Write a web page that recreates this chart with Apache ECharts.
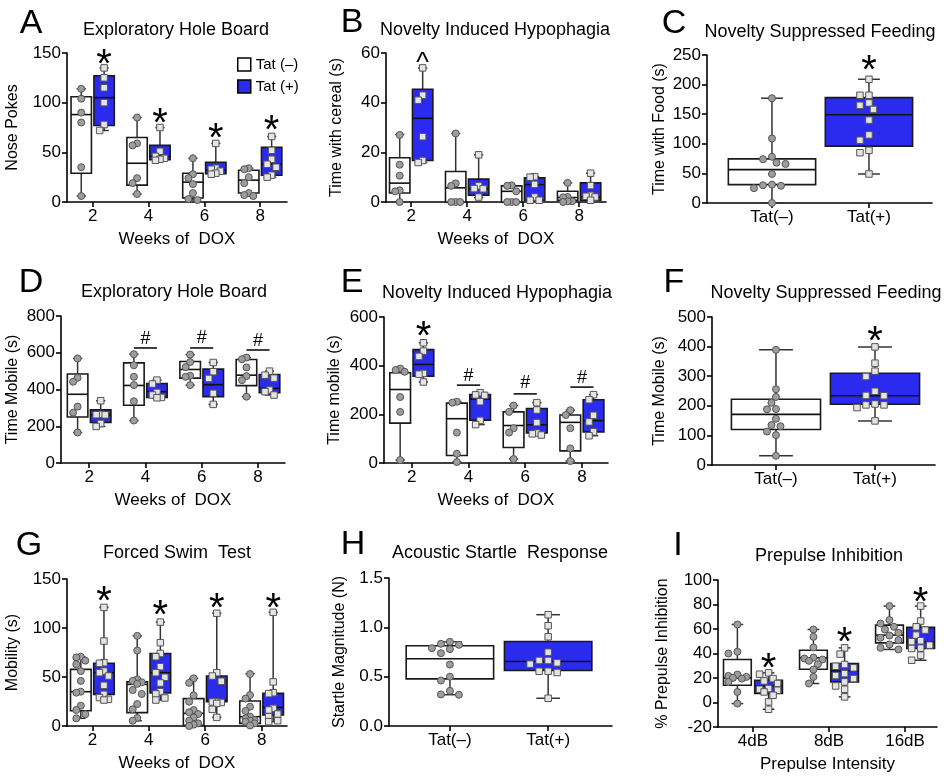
<!DOCTYPE html>
<html><head><meta charset="utf-8">
<script src="https://cdn.jsdelivr.net/npm/echarts@6/dist/echarts.min.js"></script>
<style>html,body{margin:0;padding:0;background:#fff}#c{width:946px;height:780px}</style>
</head><body><div id="c"></div>
<script>
// ---------------- DATA ----------------
const weeks = ['2', '4', '6', '8'];
const tatLabels = ['Tat(–)', 'Tat(+)'];
const dbLabels = ['4dB', '8dB', '16dB'];

// Panel A: Exploratory Hole Board, Nose Pokes
const A_negPts = [[114,104,90,80,35,6],[85,59,57,24,19,8],[44,28,24,18,9,3,2],[34,33,25,19,9,7,6]];
const A_negBox = [[6,29,88,106,114],[8,17,39,65,85],[2,4,20,29,44],[6,9,22,32,34]];
const A_posPts = [[135,125,115,100,78,72],[75,51,46,44,43,42],[59,34,33,31,29,28],[66,52,43,38,35,27,25]];
const A_posBox = [[72,77,105,127,135],[42,42.5,46,57,75],[28,28.5,32,40,59],[25,27,38,55,66]];
const A_stars = [145,86,71,79];

// Panel B: Novelty Induced Hypophagia, Time with cereal
const B_negPts = [[27,15,10.6,4.7,4.3,0],[27.6,7.5,6.5,0,0,0],[6.7,6.5,4.3,0,0,0],[7.7,2,1.9,0.3,0.3,0]];
const B_negBox = [[0,3.6,7.6,17.8,27.2],[0,0,5.7,12.3,27.6],[0,0,4.3,6.5,6.7],[0,0.7,1.8,4.3,7.7]];
const B_posPts = [[54,43,41,26.3,16.7,15.9],[19,6.5,5.4,5.3,2],[10.2,10,7.1,2,0.7,0.7],[11.6,6.6,2.7,2.3,2,0.7]];
const B_posBox = [[15.9,16.7,33.7,45.4,53.9],[1.8,2.7,5.3,9.2,19],[0.7,0.7,7,9.7,10.2],[0.7,0.7,2,7.7,11.6]];
const B_caret = [58];

// Panel C: Novelty Suppressed Feeding, Time with Food
const C_negPts = [177,109,78,74,68,66,49,31,30,29,25,0];
const C_negBox = [0,31,56.4,74.5,177];
const C_posPts = [209,182,182,169,165,158,140,115,106,89,85,49];
const C_posBox = [49,96,149,178,209];
const C_star = [235];

// Panel D: Exploratory Hole Board, Time Mobile
const D_negPts = [[569,464,442,307,274,166],[592,532,469,424,336,231],[590,549,522,475,469,424],[574,565,520,473,451,361]];
const D_negBox = [[166,250,374,484,569],[231,314,422,545,592],[424,462,509,552,590],[361,421,478,563,574]];
const D_posPts = [[339,265,263,262,215,199],[451,430,384,370,357,355],[547,497,460,379,319],[500,478,462,397,388,370]];
const D_posBox = [[199,220,262,289,339],[355,357,388,433,451],[319,361,426,511,547],[370,383,406,482,500]];
const D_hashLine = [null,626,626,615];
const D_hashText = [null,675,680,664];

// Panel E: Novelty Induced Hypophagia, Time mobile
const E_negPts = [[388,382,375,271,210,12],[252,248,125,38,4],[236,210,143,125,16],[217,197,143,60,8]];
const E_negBox = [[12,164,302,371,388],[4,31,182,246,252],[16,64,154,210,236],[8,50,167,197,217]];
const E_posPts = [[494,460,438,368,365,333],[289,280,278,252,175,158],[248,218,166,123,120,115],[281,260,196,169,128,112]];
const E_posBox = [[333,357,405,466,494],[158,176,263,281,289],[115,124,157,224,248],[112,128,174,260,281]];
const E_stars = [547];
const E_hashLine = [null,320,284,312];
const E_hashText = [null,357,329,349];

// Panel F: Novelty Suppressed Feeding, Time Mobile
const F_negPts = [389,256,230,210,189,188,156,135,131,113,101,31];
const F_negBox = [31,120,171,222,389];
const F_posPts = [399,344,317,299,249,235,234,206,203,203,194,149];
const F_posBox = [149,205,234,310,399];
const F_star = [439];

// Panel G: Forced Swim Test, Mobility
const G_negPts = [[70.7,70,66.7,63,56,46,35,34,20.7,16.3,12,7.8],[92,77,47.6,46,44.6,43,36.7,32.7,22.4,17,8.2,5.4],[48.6,44,31.3,24.8,16.3,14,12.2,8.8,5.4,2.7,1.4,0],[53,31.6,28,19.7,15.3,9.5,7.8,6.1,5.4,4.4,2.7,0.5]];
const G_negBox = [[7.8,15.6,35,57.8,70.7],[5.4,13.6,42.5,45,92],[0,0.7,12.9,27.9,48.6],[0.5,2.7,9.5,25.5,53.4]];
const G_posPts = [[121,86.7,64.6,64,56,54.4,51,41.5,32.3,29,27.2,26.5],[106,85,74,70.7,60.5,54.4,49.7,43.9,35,32.7,28.6,26.5],[115,54.4,51,45.6,24.8,24.5,24,23,17,8.8],[116,45,34,33,18,16.3,12.2,9.5,5.4,4.4]];
const G_posBox = [[26.5,32.3,54.4,64,121],[26.5,33.7,54.4,74,106],[8.8,24.8,26.5,51,115],[4.4,11.2,19,33.3,116]];
const G_stars = [134,119,127,127];

// Panel H: Acoustic Startle Response
const H_negPts = [0.853,0.833,0.823,0.789,0.779,0.738,0.623,0.5,0.461,0.356,0.32,0.317];
const H_negBox = [0.317,0.478,0.681,0.813,0.853];
const H_posPts = [1.128,1.016,0.904,0.748,0.664,0.664,0.64,0.627,0.555,0.555,0.542,0.281];
const H_posBox = [0.281,0.562,0.654,0.857,1.128];

// Panel I: Prepulse Inhibition
const I_negPts = [[63.7,41.4,40,22.8,21.7,20.9,20.1,19.5,16.8,8.6,-0.9],[59.6,53.6,44.9,36.7,35.9,35.1,34,31.3,26.9,20.9,15.5],[78.7,67.3,64.5,61.8,59.6,56.9,54.7,52.8,50.9,47.4,44.6,43.3]];
const I_negBox = [[-0.9,14.1,20.1,35.1,63.7],[15.5,27.2,36.5,42.7,59.6],[43.3,48.7,55,63.2,78.7]];
const I_posPts = [[24.2,23.1,19.5,17.6,15.5,11.4,10.8,10,8.6,5.9,0.5,-5.5],[44.6,39.5,31,29.6,28.3,23.6,22,19.5,16.8,13.5,10.8,4.6],[78.7,66.5,61.8,59.1,55,50.4,49.6,46.8,44.4,44.1,38.6,34.5]];
const I_posBox = [[-5.5,7.3,13.5,18.2,24.2],[4.6,16.8,25.8,31.8,44.6],[34.5,44.1,49.6,61.3,78.7]];
const I_stars = [32.7,54.3,87.3];

// ---------------- BUILD ----------------
const FONT = '"Liberation Sans", Arial, Helvetica, sans-serif';
const BLUE = '#2b2bef';
const PAIR_OFF = 0.205, PAIR_W = 0.365;

const grids = [], xAxes = [], yAxes = [], series = [], graphics = [];

function boxRender(offset, width, fill, capFrac) {
  return function (params, api) {
    const x = api.value(0) + offset;
    const pMin = api.coord([x, api.value(1)]);
    const pQ1 = api.coord([x, api.value(2)]);
    const pMed = api.coord([x, api.value(3)]);
    const pQ3 = api.coord([x, api.value(4)]);
    const pMax = api.coord([x, api.value(5)]);
    const w = api.size([width, 0])[0];
    const cw = w * capFrac;
    const cx = pMed[0];
    const wl = { stroke: '#333', lineWidth: 1.5 };
    return { type: 'group', children: [
      { type: 'line', shape: { x1: cx, y1: pMax[1], x2: cx, y2: pMin[1] }, style: wl },
      { type: 'line', shape: { x1: cx - cw / 2, y1: pMax[1], x2: cx + cw / 2, y2: pMax[1] }, style: wl },
      { type: 'line', shape: { x1: cx - cw / 2, y1: pMin[1], x2: cx + cw / 2, y2: pMin[1] }, style: wl },
      { type: 'rect', shape: { x: cx - w / 2, y: pQ3[1], width: w, height: pQ1[1] - pQ3[1] }, style: { fill: fill, stroke: '#1a1a1a', lineWidth: 1.6 } },
      { type: 'line', shape: { x1: cx - w / 2, y1: pMed[1], x2: cx + w / 2, y2: pMed[1] }, style: { stroke: '#111', lineWidth: 1.6 } }
    ] };
  };
}

function jitter(vals, center, pxX, pxY, maxPx) {
  const order = vals.map((v, i) => i).sort((a, b) => vals[b] - vals[a]);
  const placed = [], out = new Array(vals.length);
  const d = 7, step = 4.5;
  const cands = [0];
  for (let k = 1; k <= 10; k++) cands.push(-k * step, k * step);
  for (const i of order) {
    const y = vals[i] * pxY;
    let best = 0, bestScore = -1;
    for (const c of cands) {
      if (Math.abs(c) > maxPx) continue;
      let minD = Infinity;
      for (const p of placed) { const dd = Math.hypot(p[0] - c, p[1] - y); if (dd < minD) minD = dd; }
      if (minD >= d) { best = c; break; }
      if (minD > bestScore) { bestScore = minD; best = c; }
    }
    placed.push([best, y]);
    out[i] = center + best / pxX;
  }
  return out;
}

function text(x, y, str, size) {
  graphics.push({ type: 'text', x: x, y: y, silent: true,
    style: { text: str, fontSize: size, fontFamily: FONT, fill: '#000', align: 'center', verticalAlign: 'middle' } });
}

const NOTE_STYLE = {
  star: { fs: 40, dy: 0.2, txt: '*', fw: 'normal' },
  hash: { fs: 18, dy: 0, txt: '#', fw: 'normal' },
  caret: { fs: 27, dy: 0.2, txt: '^', fw: 'normal' }
};

function addPanel(p) {
  const gi = grids.length;
  grids.push({ left: p.grid[0], top: p.grid[1], width: p.grid[2], height: p.grid[3] });
  const ticks = p.cats.map((c, i) => i);
  xAxes.push({ gridIndex: gi, type: 'value', min: p.xr[0], max: p.xr[1],
    axisLine: { show: true, onZero: false, lineStyle: { color: '#000', width: 1.6 } },
    axisTick: { show: true, customValues: ticks, length: 5, lineStyle: { color: '#000', width: 1.6 } },
    axisLabel: { customValues: ticks, formatter: v => p.cats[Math.round(v)], color: '#000', fontSize: 17, fontFamily: FONT, margin: 6 },
    splitLine: { show: false },
    name: p.xName || '', nameLocation: 'middle', nameGap: 29,
    nameTextStyle: { color: '#000', fontSize: 17, fontFamily: FONT } });
  yAxes.push({ gridIndex: gi, type: 'value', min: p.yr[0], max: p.yr[1], interval: p.yr[2],
    axisLine: { show: true, onZero: false, lineStyle: { color: '#000', width: 1.6 } },
    axisTick: { show: true, length: 5, lineStyle: { color: '#000', width: 1.6 } },
    axisLabel: { color: '#000', fontSize: 17, fontFamily: FONT, margin: 6, formatter: p.yFmt || (v => String(v)) },
    splitLine: { show: false },
    name: p.yName, nameLocation: 'middle', nameGap: p.yGap,
    nameTextStyle: { color: '#000', fontSize: 16, fontFamily: FONT } });
  const pxX = p.grid[2] / (p.xr[1] - p.xr[0]);
  const pxY = p.grid[3] / (p.yr[1] - p.yr[0]);
  p.groups.forEach(g => {
    const neg = g.kind === 'neg';
    series.push({ type: 'custom', name: neg ? 'Tat (–)' : 'Tat (+)', xAxisIndex: gi, yAxisIndex: gi, z: 2, silent: true, clip: false,
      itemStyle: { color: neg ? '#fff' : BLUE },
      data: g.box.map((b, k) => [g.xs[k]].concat(b)),
      renderItem: boxRender(g.offset, g.width, neg ? '#fff' : BLUE, p.cap) });
    const pts = [];
    g.pts.forEach((vals, k) => {
      const c = g.xs[k] + g.offset;
      const xs = jitter(vals, c, pxX, pxY, p.spread);
      vals.forEach((v, j) => pts.push([xs[j], v]));
    });
    series.push({ type: 'scatter', xAxisIndex: gi, yAxisIndex: gi, z: 3, silent: true, data: pts,
      symbol: neg ? 'circle' : 'rect', symbolSize: neg ? 7 : 6.5,
      itemStyle: neg ? { color: '#9d9d9d', borderColor: '#555', borderWidth: 1, opacity: 1 }
                     : { color: '#e4e4e4', borderColor: '#555', borderWidth: 1, opacity: 1 } });
  });
  if (p.notes && p.notes.length) {
    series.push({ type: 'custom', xAxisIndex: gi, yAxisIndex: gi, z: 4, silent: true, clip: false,
      data: p.notes.map(n => [n[0], n[1]]),
      renderItem: (params, api) => {
        const st = NOTE_STYLE[p.notes[params.dataIndex][2]];
        const pt = api.coord([api.value(0), api.value(1)]);
        return { type: 'text', x: pt[0], y: pt[1] + st.fs * st.dy,
          style: { text: st.txt, fontSize: st.fs, fontWeight: st.fw, fontFamily: FONT, fill: '#000', align: 'center', verticalAlign: 'middle' } };
      } });
  }
  if (p.lines && p.lines.length) {
    series.push({ type: 'custom', xAxisIndex: gi, yAxisIndex: gi, z: 4, silent: true, clip: false,
      data: p.lines,
      renderItem: (params, api) => {
        const a = api.coord([api.value(0), api.value(2)]);
        const b = api.coord([api.value(1), api.value(2)]);
        return { type: 'line', shape: { x1: a[0], y1: a[1], x2: b[0], y2: b[1] }, style: { stroke: '#000', lineWidth: 1.5 } };
      } });
  }
  text(p.letter[1], p.letter[2], p.letter[0], 34);
  text(p.title[1], p.title[2], p.title[0], 18);
}

function pairGroups(negPts, negBox, posPts, posBox) {
  const xs = negBox.map((b, i) => i);
  return [
    { kind: 'neg', xs: xs, pts: negPts, box: negBox, offset: -PAIR_OFF, width: PAIR_W },
    { kind: 'pos', xs: xs, pts: posPts, box: posBox, offset: PAIR_OFF, width: PAIR_W }
  ];
}
function singleGroups(negPts, negBox, posPts, posBox, w) {
  return [
    { kind: 'neg', xs: [0], pts: [negPts], box: [negBox], offset: 0, width: w },
    { kind: 'pos', xs: [1], pts: [posPts], box: [posBox], offset: 0, width: w }
  ];
}
function starNotes(vals, off, startIdx) {
  return vals.map((v, i) => [i + (startIdx || 0) + off, v, 'star']);
}
function hashNotes(textVals) {
  const out = [];
  textVals.forEach((v, i) => { if (v != null) out.push([i, v, 'hash']); });
  return out;
}
function hashLines(lineVals) {
  const out = [];
  lineVals.forEach((v, i) => { if (v != null) out.push([i - PAIR_OFF, i + PAIR_OFF, v]); });
  return out;
}

addPanel({ letter: ['A', 31, 24], title: ['Exploratory Hole Board', 176, 30],
  grid: [67, 53, 220, 149], xr: [-0.46, 3.48], yr: [0, 150, 50], cats: weeks,
  xName: 'Weeks of  DOX', yName: 'Nose Pokes', yGap: 46, cap: 0.45, spread: 7,
  groups: pairGroups(A_negPts, A_negBox, A_posPts, A_posBox),
  notes: starNotes(A_stars, PAIR_OFF) });

addPanel({ letter: ['B', 352, 23], title: ['Novelty Induced Hypophagia', 495, 30],
  grid: [386, 53, 220, 149], xr: [-0.45, 3.48], yr: [0, 60, 20], cats: weeks,
  xName: 'Weeks of  DOX', yName: 'Time with cereal (s)', yGap: 41, cap: 0.45, spread: 7,
  groups: pairGroups(B_negPts, B_negBox, B_posPts, B_posBox),
  notes: B_caret.map((v, i) => [i + PAIR_OFF, v, 'caret']) });

addPanel({ letter: ['C', 674, 24], title: ['Novelty Suppressed Feeding', 820, 32],
  grid: [707, 55, 225, 148], xr: [-0.67, 1.65], yr: [0, 250, 50], cats: tatLabels,
  yName: 'Time with Food (s)', yGap: 39, cap: 0.25, spread: 18,
  groups: singleGroups(C_negPts, C_negBox, C_posPts, C_posBox, 0.9),
  notes: starNotes(C_star, 0, 1) });

addPanel({ letter: ['D', 31, 283], title: ['Exploratory Hole Board', 174, 292],
  grid: [61, 316, 224, 147], xr: [-0.5, 3.48], yr: [0, 800, 200], cats: weeks,
  xName: 'Weeks of  DOX', yName: 'Time Mobile (s)', yGap: 40, cap: 0.45, spread: 7,
  groups: pairGroups(D_negPts, D_negBox, D_posPts, D_posBox),
  notes: hashNotes(D_hashText), lines: hashLines(D_hashLine) });

addPanel({ letter: ['E', 352, 283], title: ['Novelty Induced Hypophagia', 497, 293],
  grid: [384, 317, 224, 146], xr: [-0.49, 3.46], yr: [0, 600, 200], cats: weeks,
  xName: 'Weeks of  DOX', yName: 'Time mobile (s)', yGap: 41, cap: 0.45, spread: 7,
  groups: pairGroups(E_negPts, E_negBox, E_posPts, E_posBox),
  notes: starNotes(E_stars, PAIR_OFF).concat(hashNotes(E_hashText)), lines: hashLines(E_hashLine) });

addPanel({ letter: ['F', 674, 283], title: ['Novelty Suppressed Feeding', 826, 293],
  grid: [712, 317, 223, 148], xr: [-0.646, 1.606], yr: [0, 500, 100], cats: tatLabels,
  yName: 'Time Mobile (s)', yGap: 44, cap: 0.38, spread: 18,
  groups: singleGroups(F_negPts, F_negBox, F_posPts, F_posBox, 0.9),
  notes: starNotes(F_star, 0, 1) });

addPanel({ letter: ['G', 29, 546], title: ['Forced Swim  Test', 177, 553],
  grid: [67, 579, 220, 147], xr: [-0.45, 3.45], yr: [0, 150, 50], cats: weeks,
  xName: 'Weeks of  DOX', yName: 'Mobility (s)', yGap: 46, cap: 0.45, spread: 7,
  groups: pairGroups(G_negPts, G_negBox, G_posPts, G_posBox),
  notes: starNotes(G_stars, PAIR_OFF) });

addPanel({ letter: ['H', 353, 545], title: ['Acoustic Startle  Response', 500, 553],
  grid: [389, 578, 223, 148], xr: [-0.62, 1.65], yr: [0, 1.5, 0.5], cats: tatLabels,
  yName: 'Startle Magnitude (N)', yGap: 41, cap: 0.27, spread: 18, yFmt: v => v.toFixed(1),
  groups: singleGroups(H_negPts, H_negBox, H_posPts, H_posBox, 0.89),
  notes: [] });

addPanel({ letter: ['I', 678, 546], title: ['Prepulse Inhibition', 829, 556],
  grid: [718, 580, 219, 147], xr: [-0.46, 2.42], yr: [-20, 100, 20], cats: dbLabels,
  xName: 'Prepulse Intensity', yName: '% Prepulse Inhibition', yGap: 47, cap: 0.42, spread: 9,
  groups: pairGroups(I_negPts, I_negBox, I_posPts, I_posBox),
  notes: starNotes(I_stars, PAIR_OFF) });

const chart = echarts.init(document.getElementById('c'), null, { renderer: 'canvas' });
chart.setOption({
  animation: false,
  backgroundColor: '#fff',
  grid: grids, xAxis: xAxes, yAxis: yAxes, series: series, graphic: graphics,
  legend: { left: 237, top: 57, orient: 'vertical', itemWidth: 13, itemHeight: 13, itemGap: 7, padding: 0,
    selectedMode: false, icon: 'rect',
    textStyle: { fontSize: 15, fontFamily: FONT, color: '#000' },
    data: [
      { name: 'Tat (–)', itemStyle: { color: '#fff', borderColor: '#000', borderWidth: 1.5 } },
      { name: 'Tat (+)', itemStyle: { color: BLUE, borderColor: '#000', borderWidth: 1.5 } }
    ] }
});
</script></body></html>
